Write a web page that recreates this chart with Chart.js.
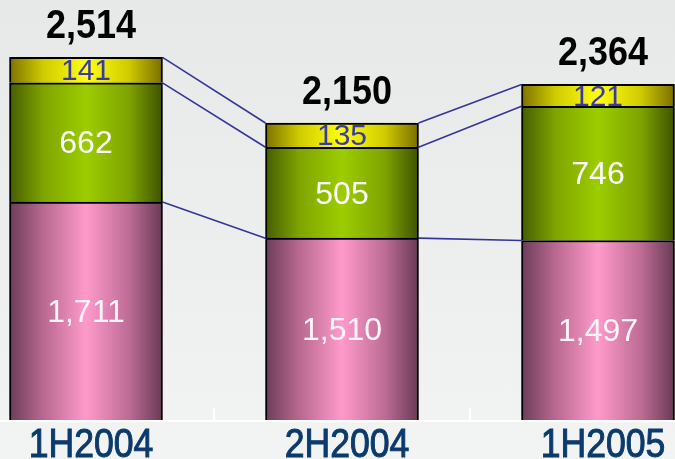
<!DOCTYPE html>
<html>
<head>
<meta charset="utf-8">
<script src="https://cdn.jsdelivr.net/npm/chart.js@4/dist/chart.umd.min.js"></script>
<style>
  html, body { margin: 0; padding: 0; }
  body { width: 675px; height: 459px; overflow: hidden;
         background: linear-gradient(#e7e9e9, #f2f4f4); }
  canvas { display: block; }
</style>
</head>
<body>
<canvas id="chart" width="675" height="459"></canvas>
<script>
// periods and the three stacked components
const periods = ['1H2004', '2H2004', '1H2005'];
const baseSeries = [1711, 1510, 1497];
const midSeries = [662, 505, 746];
const topSeries = [141, 135, 121];
const axisMin = 500;
const axisMax = 2833;

const BAR_W = 153;
const FONT = '"Liberation Sans", Arial, sans-serif';

// horizontal "cylinder" shading for each bar
function shade(stops) {
    return function (ctx) {
        const chart = ctx.chart;
        const xs = chart.scales.x;
        const cx = xs && ctx.dataIndex !== undefined ? xs.getPixelForValue(ctx.dataIndex) : NaN;
        if (!isFinite(cx)) return stops[2];
        const g = chart.ctx.createLinearGradient(cx - BAR_W / 2, 0, cx + BAR_W / 2, 0);
        g.addColorStop(0, stops[0]);
        g.addColorStop(0.22, stops[1]);
        g.addColorStop(0.5, stops[2]);
        g.addColorStop(0.78, stops[3]);
        g.addColorStop(1, stops[4]);
        return g;
    };
}

const pinkStops = ['#6c3d58', '#b8698f', '#ff9acb', '#bd6c95', '#6a3a55'];
const greenStops = ['#465d00', '#7ea400', '#9ccd00', '#7ea400', '#3f5200'];
const yellowStops = ['#7d7200', '#cfcb00', '#ffff10', '#cfcb00', '#7a6e00'];

// slightly condensed text, as in the slide the chart comes from
function squeezedText(c, text, x, y, sx, outline) {
    c.save();
    c.translate(x, y);
    c.scale(sx, 1);
    c.fillText(text, 0, 0);
    if (outline) c.strokeText(text, 0, 0);
    c.restore();
}

// white base line, small separators and the category names
const baseAxis = {
    id: 'baseAxis',
    beforeDatasetsDraw(chart) {
        const c = chart.ctx;
        const xs = chart.scales.x;
        const bottom = chart.chartArea.bottom;
        c.save();
        c.strokeStyle = '#ffffff';
        c.lineWidth = 2;
        c.beginPath();
        c.moveTo(0, bottom + 1);
        c.lineTo(chart.width, bottom + 1);
        for (let i = 0; i < periods.length - 1; i++) {
            const mx = (xs.getPixelForTick(i) + xs.getPixelForTick(i + 1)) / 2;
            c.moveTo(mx, bottom - 12);
            c.lineTo(mx, bottom);
        }
        c.stroke();

        c.fillStyle = '#0b3a6c';
        c.strokeStyle = '#0b3a6c';
        c.lineWidth = 1;
        c.font = '40px ' + FONT;
        c.textAlign = 'center';
        c.textBaseline = 'alphabetic';
        periods.forEach((p, i) => {
            squeezedText(c, p, xs.getPixelForTick(i) + 5, bottom + 37, 0.89, true);
        });
        c.restore();
    }
};

// blue connector lines between matching segments of neighbouring bars
const connectors = {
    id: 'connectors',
    beforeDatasetsDraw(chart) {
        const c = chart.ctx;
        c.save();
        c.strokeStyle = '#34349c';
        c.lineWidth = 1.6;
        chart.data.datasets.forEach((ds, di) => {
            const els = chart.getDatasetMeta(di).data;
            for (let i = 0; i < els.length - 1; i++) {
                const a = els[i], b = els[i + 1];
                c.beginPath();
                c.moveTo(a.x + a.width / 2, a.y);
                c.lineTo(b.x - b.width / 2, b.y);
                c.stroke();
            }
        });
        c.restore();
    }
};

// segment values and totals
const valueLabels = {
    id: 'valueLabels',
    afterDatasetsDraw(chart) {
        const c = chart.ctx;
        const floor = chart.chartArea.bottom;
        c.save();
        c.textAlign = 'center';
        c.textBaseline = 'middle';
        chart.data.datasets.forEach((ds, di) => {
            const els = chart.getDatasetMeta(di).data;
            c.fillStyle = ds.labelColor;
            c.font = ds.labelFont;
            els.forEach((el, i) => {
                const mid = (el.y + Math.min(el.base, floor)) / 2;
                c.fillText(ds.data[i].toLocaleString('en-US'), el.x, mid + 2);
            });
        });
        const last = chart.data.datasets.length - 1;
        const tops = chart.getDatasetMeta(last).data;
        c.fillStyle = '#000';
        c.font = 'bold 40px ' + FONT;
        c.textBaseline = 'alphabetic';
        tops.forEach((el, i) => {
            const total = chart.data.datasets.reduce((s, ds) => s + ds.data[i], 0);
            squeezedText(c, total.toLocaleString('en-US'), el.x + 5, el.y - 19, 0.9, false);
        });
        c.restore();
    }
};

new Chart(document.getElementById('chart'), {
    type: 'bar',
    data: {
        labels: periods,
        datasets: [
            { data: baseSeries, backgroundColor: shade(pinkStops),
              labelColor: '#fff4fa', labelFont: '32px ' + FONT },
            { data: midSeries, backgroundColor: shade(greenStops),
              labelColor: '#ffffff', labelFont: '32px ' + FONT },
            { data: topSeries, backgroundColor: shade(yellowStops),
              labelColor: '#3a3aa6', labelFont: '30px ' + FONT }
        ].map(d => Object.assign(d, {
            borderColor: '#000',
            borderWidth: 2,
            barThickness: BAR_W,
            clip: { left: false, right: false, top: false, bottom: 0 }
        }))
    },
    options: {
        responsive: false,
        animation: false,
        layout: { padding: { left: 86, right: 77, top: 0, bottom: 0 } },
        plugins: { legend: { display: false }, tooltip: { enabled: false } },
        scales: {
            x: {
                stacked: true,
                offset: false,
                grid: { display: false, drawTicks: false },
                border: { display: false },
                ticks: { display: false },
                afterFit(scale) { scale.height = 39; }
            },
            y: {
                stacked: true,
                display: false,
                min: axisMin,
                max: axisMax
            }
        }
    },
    plugins: [baseAxis, connectors, valueLabels]
});
</script>
</body>
</html>
